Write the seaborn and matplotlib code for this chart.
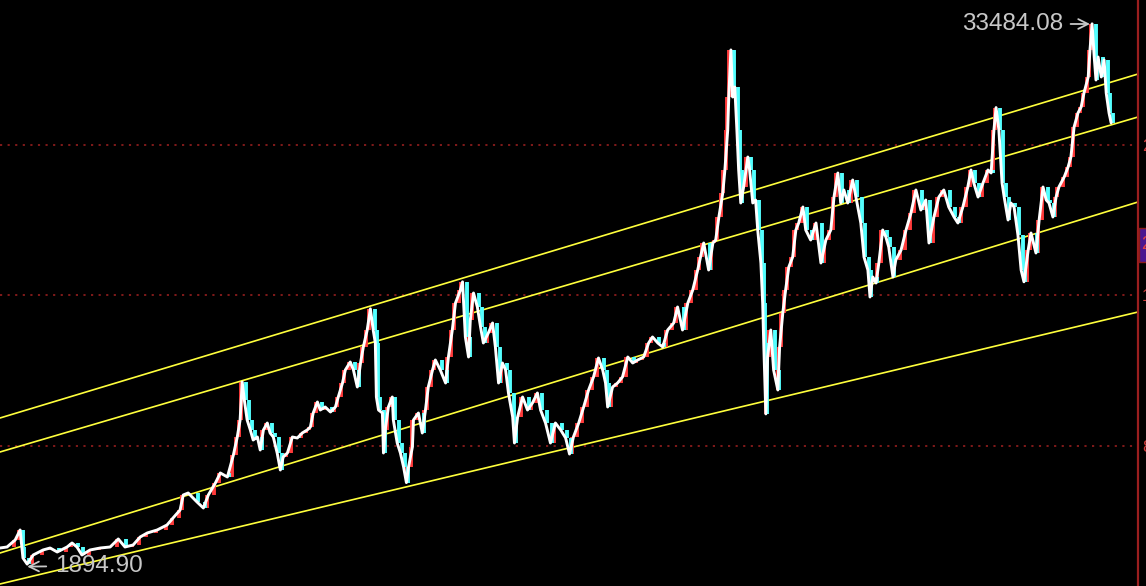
import numpy as np
import pandas as pd
import matplotlib
matplotlib.use("Agg")
import matplotlib.pyplot as plt
import matplotlib.transforms as mtransforms
from matplotlib.patches import Rectangle
import seaborn as sns

# ---------------- data ----------------
years_1987_1997 = [1987.15,1987.35,1987.58,1987.72,1987.77,1987.80,1987.92,1988.09,1988.37,1988.57,
                   1988.77,1989.05,1989.19,1989.33,1989.47,1989.70,1989.99,1990.27,1990.50,1990.69,
                   1990.92,1991.12,1991.32,1991.60,1991.88,1992.05,1992.25,1992.34,1992.48,1992.73,
                   1992.91,1993.05,1993.25,1993.39,1993.59,1993.76,1993.87,1993.95,1994.01,1994.07,
                   1994.15,1994.24,1994.32,1994.44,1994.52,1994.61,1994.72,1994.80,1994.89,1995.00,
                   1995.09,1995.17,1995.29,1995.43,1995.57,1995.71,1995.85,1995.94,1996.02,1996.14,
                   1996.22,1996.36,1996.51,1996.65,1996.73,1996.85,1996.93,1997.07,1997.16,1997.27,
                   1997.36,1997.44,1997.55,1997.64,1997.72,1997.78]
close_1987_1997 = [2836,2895,3304,3889,2895,2252,1895,2427,2720,2836,
                   2603,2895,3129,2895,2427,2720,2836,2895,3363,2895,
                   3012,3480,3714,3889,4181,4591,5058,5935,6052,5526,
                   5175,5935,6637,7222,6988,8274,9327,10321,12543,11490,
                   10321,9736,9151,9327,8566,9736,10145,9560,9327,8391,
                   7397,8157,8391,9327,9268,9560,9736,9911,10730,11373,
                   10905,11081,10788,11081,11665,12484,13244,13712,13244,12250,
                   13653,14589,15583,16820,15583,14823]

years_1997_2007 = [1997.81,1997.87,1997.98,1998.01,1998.06,1998.15,1998.26,1998.29,1998.40,1998.49,
                   1998.58,1998.66,1998.72,1998.83,1998.86,1999.00,1999.11,1999.20,1999.28,1999.40,
                   1999.48,1999.62,1999.77,1999.85,1999.96,2000.05,2000.19,2000.25,2000.33,2000.42,
                   2000.47,2000.56,2000.67,2000.76,2000.84,2000.98,2001.10,2001.18,2001.27,2001.38,
                   2001.47,2001.55,2001.67,2001.72,2001.81,2001.95,2002.09,2002.23,2002.37,2002.46,
                   2002.60,2002.74,2002.88,2003.03,2003.17,2003.28,2003.39,2003.54,2003.68,2003.82,
                   2003.96,2004.10,2004.22,2004.30,2004.36,2004.50,2004.64,2004.78,2004.93,2005.07,
                   2005.21,2005.38,2005.52,2005.63,2005.78,2005.92,2006.06,2006.23,2006.34,2006.48,
                   2006.63,2006.77,2006.91,2006.99,2007.08,2007.22,2007.34,2007.42,2007.51,2007.62,
                   2007.68,2007.76,2007.79,2007.85]
close_1997_2007 = [11665,10905,10730,8391,9736,11081,11665,10321,8976,8391,
                   7573,6660,7573,8742,10321,10730,9560,10905,12250,13244,
                   13829,13244,12484,14004,15583,17162,17922,18397,15174,14004,
                   16168,17746,16928,15758,14823,15407,15992,14589,12484,13653,
                   13244,11899,10496,8976,10496,11665,10905,11315,11899,10905,
                   10145,8976,10145,9736,9268,8331,9327,10145,11081,12075,
                   12835,13946,13244,12484,11081,12250,12484,12835,14004,13653,
                   13829,14004,14823,15174,14823,14589,15583,15992,16928,15583,
                   17162,17922,19091,19851,20670,19091,20670,20845,22190,23593,
                   24938,27277,29206,31958]

years_2007_2018 = [2007.90,2007.96,2008.02,2008.07,2008.13,2008.21,2008.33,2008.38,2008.47,2008.55,
                   2008.61,2008.70,2008.75,2008.78,2008.84,2008.89,2008.98,2009.06,2009.18,2009.23,
                   2009.32,2009.40,2009.49,2009.60,2009.69,2009.77,2009.89,2009.97,2010.11,2010.26,
                   2010.40,2010.54,2010.68,2010.77,2010.88,2010.96,2011.05,2011.16,2011.30,2011.39,
                   2011.53,2011.62,2011.73,2011.79,2011.87,2011.96,2012.04,2012.15,2012.24,2012.32,
                   2012.44,2012.52,2012.67,2012.81,2012.95,2013.09,2013.23,2013.37,2013.46,2013.60,
                   2013.74,2013.88,2014.02,2014.17,2014.28,2014.42,2014.56,2014.65,2014.73,2014.85,
                   2014.99,2015.13,2015.22,2015.30,2015.36,2015.44,2015.53,2015.59,2015.70,2015.78,
                   2015.87,2015.98,2016.07,2016.15,2016.27,2016.35,2016.49,2016.58,2016.69,2016.78,
                   2016.86,2016.97,2017.06,2017.14,2017.29,2017.40,2017.48,2017.57,2017.68,2017.77,
                   2017.85,2017.97,2018.02,2018.08,2018.14,2018.19,2018.25,2018.34,2018.42,2018.48,
                   2018.56,2018.62]
close_2007_2018 = [29206,29791,27277,24938,23009,23944,25698,24938,23009,23184,
                   21430,19500,17162,14823,10676,14004,15583,13244,12075,14589,
                   16577,17922,19266,19851,21430,21839,22775,21430,20845,21839,
                   19500,20845,21430,23359,24763,23009,23769,23009,24353,23359,
                   21839,19851,19091,17512,18682,18331,19500,21430,21021,20436,
                   18682,19676,20260,21430,22424,23769,22599,23184,20670,22190,
                   23359,23769,22775,22190,21839,22775,23944,24938,24178,23359,
                   24178,24938,24763,27277,28588,27277,24178,23359,22015,23009,
                   22775,21137,19091,18400,20260,21254,20085,22015,23944,23184,
                   23009,22190,23359,23944,24529,25113,25698,27452,28271,28622,
                   29440,30376,31954,33484.08,31545,30200,31545,30376,31370,29440,
                   28271,27686]

# reference grid levels and their (clipped) right-hand labels
grid_levels = [8800, 17600, 26400]
grid_labels = ["8800", "17600", "26400"]

# four parallel channel lines: start / end (year, value)
channel_years = [1987.15, 2019.38]
channel_start_values = [10437, 8450, 2544, 732]
channel_end_values = [30551, 28037, 23067, 16635]

high_point = (2018.02, 33475)
low_point = (1987.92, 1750)
high_label = "33484.08"
low_label = "1894.90"
current_value = 20553
current_label = "20553"

# ---------------- figure ----------------
sns.set_theme(style="dark")
plt.rcParams["font.family"] = ["Liberation Sans", "DejaVu Sans"]

W, H = 1146, 586
fig = plt.figure(figsize=(W / 100, H / 100), dpi=100, facecolor="black")
ax = fig.add_axes([0, 0, 1138 / W, 1])
ax.set_facecolor("black")

years = np.array(years_1987_1997 + years_1997_2007 + years_2007_2018, dtype=float)
closes = np.array(close_1987_1997 + close_1997_2007 + close_2007_2018, dtype=float)
opens = np.r_[closes[0], closes[:-1]]
up = closes >= opens

# grid lines
for lv in grid_levels:
    ax.axhline(lv, color="#8a1c1c", lw=1.3, ls=(0, (1.2, 3.0)), zorder=1)

# channel lines
for s, e in zip(channel_start_values, channel_end_values):
    ax.plot(channel_years, [s, e], color="#ffff3c", lw=1.2, zorder=2)

# candle bodies (open = previous close)
ax.vlines(years[up] - 0.04, opens[up], closes[up], color="#ff3b3b", lw=2.8, zorder=3)
ax.vlines(years[~up] + 0.04, opens[~up], closes[~up], color="#54ffff", lw=2.8, zorder=3)

df = pd.DataFrame({"year": years, "close": closes})
sns.lineplot(data=df, x="year", y="close", color="white", lw=2.1, ax=ax,
             sort=False, estimator=None, zorder=4)

ax.set_xlim(1987.15, 2019.38)
ax.set_ylim(614, 34878)
ax.set_xlabel("")
ax.set_ylabel("")
ax.set_xticks([])
ax.grid(False)

# right axis
for side in ["left", "top", "bottom"]:
    ax.spines[side].set_visible(False)
ax.spines["right"].set_visible(True)
ax.spines["right"].set_color("#9b1f1f")
ax.spines["right"].set_linewidth(1.6)
ax.yaxis.tick_right()
ax.set_yticks(grid_levels)
ax.set_yticklabels(grid_labels)
ax.tick_params(axis="y", length=0, pad=3, labelsize=12, labelcolor="#d03a3a")

# current value box on the axis (starts at the axis line)
trans = mtransforms.blended_transform_factory(ax.transAxes, ax.transData)
ax.add_patch(Rectangle((1.001, current_value - 1000), 0.02, 2000, transform=trans,
                       facecolor="#4a1690", edgecolor="#8b1a1a", lw=1,
                       clip_on=False, zorder=5))
ax.annotate(current_label, xy=(1.0, current_value), xycoords=("axes fraction", "data"),
            xytext=(2.5, 0), textcoords="offset points", va="center", ha="left",
            fontsize=13, color="#e04040", zorder=6, annotation_clip=False)

# extreme labels
ax.annotate(high_label, xy=high_point, xytext=(2017.26, 33475),
            ha="right", va="center", fontsize=17.5, color="#c8c8c8",
            arrowprops=dict(arrowstyle="->", color="#c8c8c8", lw=1.3,
                            shrinkA=3, shrinkB=0))
ax.annotate(low_label, xy=low_point, xytext=(1988.71, 1784),
            ha="left", va="center", fontsize=17.5, color="#c8c8c8",
            arrowprops=dict(arrowstyle="->", color="#c8c8c8", lw=1.3,
                            shrinkA=4, shrinkB=0))

fig.savefig("out.png", dpi=100, facecolor="black")
